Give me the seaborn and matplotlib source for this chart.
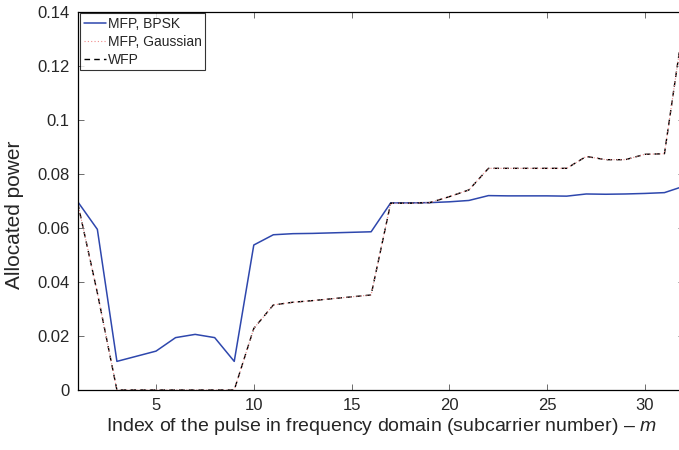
import matplotlib
matplotlib.use("Agg")
import matplotlib.pyplot as plt
import seaborn as sns
import pandas as pd
from matplotlib.ticker import FuncFormatter

# Subcarrier index
subcarrier = list(range(1, 33))

# Allocated power per subcarrier
mfp_bpsk = [0.0697, 0.0595, 0.0106, 0.0125, 0.0144, 0.0194, 0.0206, 0.0194,
            0.0106, 0.0537, 0.0575, 0.0579, 0.0580, 0.0582, 0.0584, 0.0586,
            0.0693, 0.0693, 0.0694, 0.0697, 0.0702, 0.0720, 0.0719, 0.0719,
            0.0719, 0.0718, 0.0726, 0.0725, 0.0726, 0.0728, 0.0731, 0.0755]
mfp_gauss = [0.0691, 0.0360, 0.0, 0.0, 0.0, 0.0, 0.0, 0.0,
             0.0, 0.0228, 0.0315, 0.0325, 0.0331, 0.0338, 0.0345, 0.0352,
             0.0692, 0.0692, 0.0694, 0.0716, 0.0741, 0.0821, 0.0821, 0.0821,
             0.0821, 0.0821, 0.0865, 0.0853, 0.0853, 0.0873, 0.0875, 0.1370]
wfp = [0.0691, 0.0360, 0.0, 0.0, 0.0, 0.0, 0.0, 0.0,
       0.0, 0.0228, 0.0315, 0.0325, 0.0331, 0.0338, 0.0345, 0.0352,
       0.0692, 0.0692, 0.0694, 0.0716, 0.0741, 0.0821, 0.0821, 0.0821,
       0.0821, 0.0821, 0.0865, 0.0853, 0.0853, 0.0873, 0.0875, 0.1370]

series_names = ["MFP, BPSK", "MFP, Gaussian", "WFP"]
x_ticks = [5, 10, 15, 20, 25, 30]
y_ticks = [0, 0.02, 0.04, 0.06, 0.08, 0.1, 0.12, 0.14]

df = pd.DataFrame({"m": subcarrier, series_names[0]: mfp_bpsk,
                   series_names[1]: mfp_gauss, series_names[2]: wfp})

sns.set_style("ticks")
plt.rcParams["font.family"] = ["Liberation Sans", "DejaVu Sans"]
plt.rcParams["mathtext.fontset"] = "custom"
plt.rcParams["mathtext.it"] = "Liberation Sans:italic"
plt.rcParams["mathtext.rm"] = "Liberation Sans"

fig = plt.figure(figsize=(6.79, 4.5), dpi=100)
ax = fig.add_axes([77.8 / 679, 60 / 450, (684 - 77.8) / 679, 378 / 450])

sns.lineplot(data=df, x="m", y=series_names[0], ax=ax, color="#2e47ad",
             linewidth=1.1, label=series_names[0])
sns.lineplot(data=df, x="m", y=series_names[2], ax=ax, color="black",
             linewidth=1.0, linestyle=(0, (4, 3)), label=series_names[2])
sns.lineplot(data=df, x="m", y=series_names[1], ax=ax, color="#f08c8c",
             linewidth=0.8, linestyle=(0, (1, 2)), label=series_names[1])

ax.set_xlim(1, 32)
ax.set_ylim(0, 0.14)
ax.set_xticks(x_ticks)
ax.set_yticks(y_ticks)
ax.yaxis.set_major_formatter(FuncFormatter(lambda v, p: f"{v:g}"))
ax.tick_params(direction="in", length=4, width=0.6, labelsize=12,
               top=True, right=True, color="#555555", pad=6)
for s in ax.spines.values():
    s.set_linewidth(0.9)
    s.set_color("black")

ax.set_xlabel("Index of the pulse in frequency domain (subcarrier number) – $m$",
              fontsize=14, labelpad=2)
ax.set_ylabel("Allocated power", fontsize=15)
ax.yaxis.set_label_coords(-0.088, 0.463)

handles, labels = ax.get_legend_handles_labels()
order = [labels.index(n) for n in series_names]
leg = ax.legend([handles[i] for i in order], [labels[i] for i in order],
                loc="upper left", bbox_to_anchor=(0.004, 0.997), fontsize=10,
                frameon=True, fancybox=False, edgecolor="black",
                handlelength=1.6, handletextpad=0.15, borderpad=0.25,
                labelspacing=0.3, borderaxespad=0.0)
leg.get_frame().set_linewidth(0.8)

fig.savefig("out.png", dpi=100)
